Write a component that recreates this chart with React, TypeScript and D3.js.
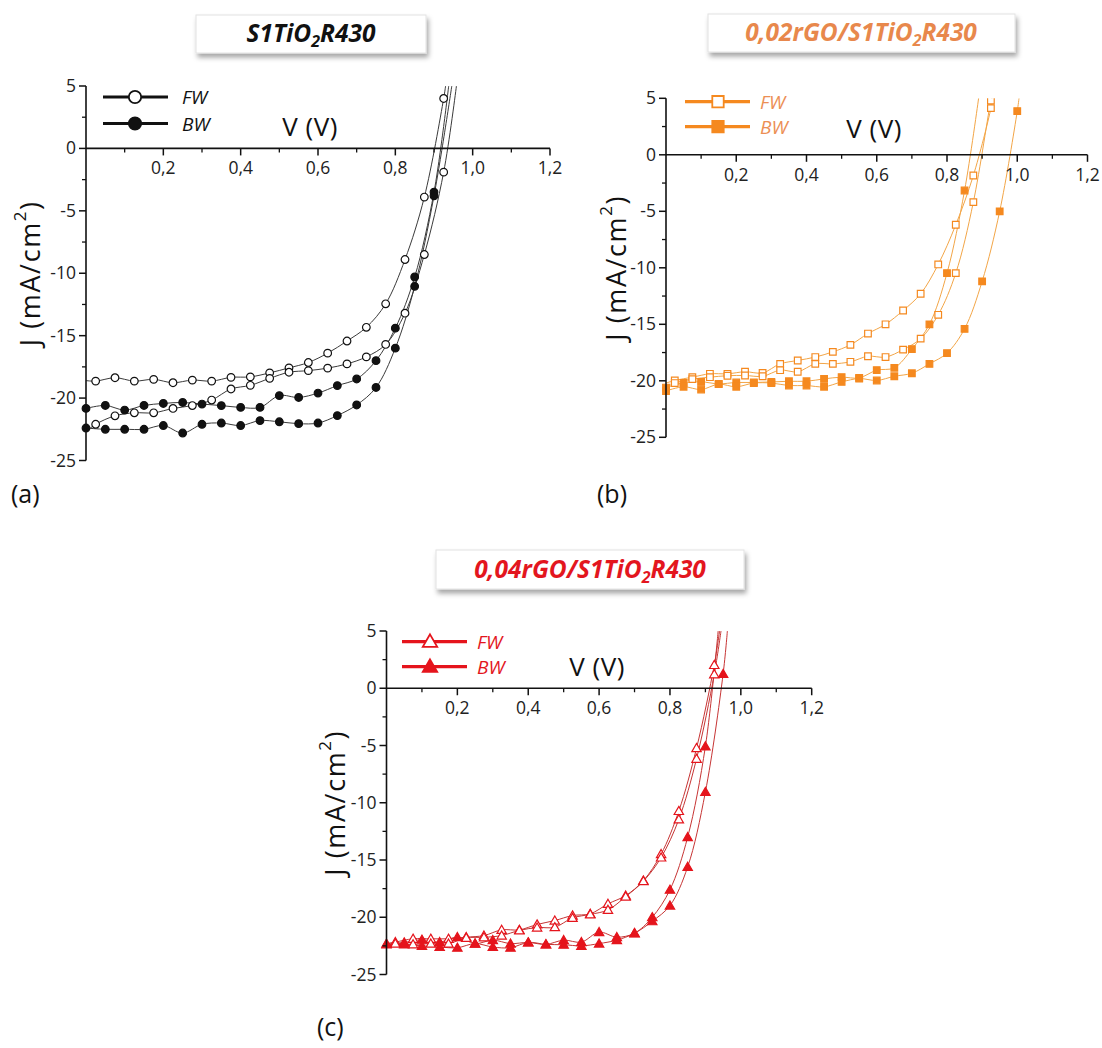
import React from 'react';
import * as d3 from 'd3';

// ---------- shared tick values ----------
const X_MAJOR = [0.2, 0.4, 0.6, 0.8, 1.0, 1.2];
const X_MINOR = [0.1, 0.3, 0.5, 0.7, 0.9, 1.1];
const Y_MAJOR = [5, 0, -5, -10, -15, -20, -25];
const Y_MINOR = [2.5, -2.5, -7.5, -12.5, -17.5, -22.5];

// voltages of the markers
const V_FW = [0.025, 0.075, 0.125, 0.175, 0.225, 0.275, 0.325, 0.375, 0.425, 0.475, 0.525, 0.575, 0.625, 0.675, 0.725, 0.775, 0.825, 0.875, 0.925];
const V_BW_090 = [0, 0.05, 0.1, 0.15, 0.2, 0.25, 0.3, 0.35, 0.4, 0.45, 0.5, 0.55, 0.6, 0.65, 0.7, 0.75, 0.8, 0.85, 0.9];
const V_BW_085 = [0, 0.05, 0.1, 0.15, 0.2, 0.25, 0.3, 0.35, 0.4, 0.45, 0.5, 0.55, 0.6, 0.65, 0.7, 0.75, 0.8, 0.85];
const V_BW_095 = [0, 0.05, 0.1, 0.15, 0.2, 0.25, 0.3, 0.35, 0.4, 0.45, 0.5, 0.55, 0.6, 0.65, 0.7, 0.75, 0.8, 0.85, 0.9, 0.95];
const V_BW_100 = [0, 0.05, 0.1, 0.15, 0.2, 0.25, 0.3, 0.35, 0.4, 0.45, 0.5, 0.55, 0.6, 0.65, 0.7, 0.75, 0.8, 0.85, 0.9, 0.95, 1.0];

// ---------- panel (a): S1TiO2R430 ----------
const A_FW1 = [-18.64, -18.37, -18.64, -18.5, -18.77, -18.56, -18.64, -18.34, -18.3, -17.98, -17.58, -17.15, -16.4, -15.43, -14.33, -12.45, -8.9, -3.9, 4.0];
const A_FW2 = [-22.1, -21.42, -21.18, -21.18, -20.83, -20.6, -20.16, -19.27, -18.98, -18.42, -17.93, -17.8, -17.6, -17.26, -16.7, -15.7, -13.2, -8.5, -1.9];
const A_BW1 = [-20.83, -20.59, -20.96, -20.59, -20.43, -20.35, -20.48, -20.6, -20.75, -20.75, -19.8, -19.95, -19.6, -19.0, -18.47, -17.0, -14.4, -10.3, -3.5];
const A_BW2 = [-22.4, -22.5, -22.5, -22.5, -22.2, -22.8, -22.1, -22.0, -22.2, -21.8, -21.9, -22.05, -22.0, -21.4, -20.55, -19.15, -16.0, -11.05, -3.8];
const A_FW1_HEAD: [number, number] = [0, -18.6];
const A_FW2_HEAD: [number, number] = [0, -22.7];
const A_FW1_TAIL: [number, number] = [0.93, 5];
const A_FW2_TAIL: [number, number] = [0.958, 5];
const A_BW1_TAIL: [number, number] = [0.938, 5];
const A_BW2_TAIL: [number, number] = [0.946, 5];

// ---------- panel (b): 0,02rGO/S1TiO2R430 ----------
const B_FW1 = [-19.97, -19.68, -19.38, -19.38, -19.2, -19.3, -18.5, -18.2, -17.9, -17.44, -16.82, -15.82, -15.0, -13.78, -12.3, -9.7, -6.19, -1.83, 4.13];
const B_FW2 = [-20.2, -19.85, -19.68, -19.55, -19.53, -19.6, -19.06, -19.2, -18.5, -18.5, -18.32, -17.83, -17.9, -17.24, -16.27, -14.16, -10.47, -4.19, 4.8];
const B_BW1 = [-20.6, -20.18, -20.09, -20.27, -20.15, -20.15, -20.1, -20.04, -20.04, -19.83, -19.68, -19.74, -19.06, -18.85, -17.2, -15.0, -10.47, -3.16];
const B_BW2 = [-20.9, -20.53, -20.77, -20.3, -20.53, -20.2, -20.2, -20.42, -20.42, -20.53, -20.1, -19.8, -19.97, -19.6, -19.33, -18.5, -17.55, -15.4, -11.2, -5.0, 3.86];
const B_FW1_HEAD: [number, number] = [0, -20.2];
const B_FW2_HEAD: [number, number] = [0, -20.6];
const B_FW1_TAIL: [number, number] = [0.929, 5];
const B_FW2_TAIL: [number, number] = [0.927, 5];
const B_BW1_TAIL: [number, number] = [0.89, 5];
const B_BW2_TAIL: [number, number] = [1.005, 5];

// ---------- panel (c): 0,04rGO/S1TiO2R430 ----------
const C_FW1 = [-22.17, -21.88, -21.88, -21.88, -21.74, -21.6, -21.1, -21.1, -20.63, -20.29, -19.85, -19.7, -18.83, -18.11, -16.8, -14.49, -10.72, -5.23, 2.03];
const C_FW2 = [-22.3, -22.37, -22.3, -22.3, -21.8, -21.75, -21.6, -21.15, -20.9, -20.87, -20.06, -19.75, -19.36, -18.2, -16.85, -14.78, -11.45, -6.16, 1.22];
const C_BW1 = [-22.3, -22.2, -21.96, -22.17, -21.74, -22.3, -22.0, -22.3, -22.2, -22.37, -22.0, -22.17, -21.3, -21.74, -21.39, -20.0, -17.6, -13.0, -5.08];
const C_BW2 = [-22.37, -22.37, -22.5, -22.6, -22.66, -22.3, -22.6, -22.66, -22.2, -22.37, -22.4, -22.5, -22.3, -22.0, -21.4, -20.35, -18.98, -15.6, -9.06, 1.25];
const C_FW1_HEAD: [number, number] = [0, -22.3];
const C_FW2_HEAD: [number, number] = [0, -22.5];
const C_FW1_TAIL: [number, number] = [0.94, 5];
const C_FW2_TAIL: [number, number] = [0.944, 5];
const C_BW1_TAIL: [number, number] = [0.936, 5];
const C_BW2_TAIL: [number, number] = [0.962, 5];

type Pt = [number, number];
type Series = { v: number[]; j: number[]; head?: Pt; tail: Pt; filled: boolean };

const zip = (v: number[], j: number[]): Pt[] => j.map((y, i) => [v[i], y]);

const PANELS = [
  {
    id: 'a',
    x0: 86, x1: 550, yTop: 86, yBot: 460.5,
    box: [196, 15, 230, 38], titleCx: 311, titleY: 42, titleColor: '#111111',
    titlePre: 'S1TiO', titlePost: 'R430',
    letter: '(a)', letterX: 11, letterY: 503,
    vLabelX: 310, vLabelY: 136, yTitleX: 29,
    legend: { lx1: 103, lx2: 168, mx: 135, tx: 182, yFW: 97, yBW: 123.5 },
    lineColor: '#3a3a3a', markColor: '#111111', legendText: '#111111', shape: 'circle',
    series: [
      { v: V_FW, j: A_FW1, head: A_FW1_HEAD, tail: A_FW1_TAIL, filled: false },
      { v: V_FW, j: A_FW2, head: A_FW2_HEAD, tail: A_FW2_TAIL, filled: false },
      { v: V_BW_090, j: A_BW1, tail: A_BW1_TAIL, filled: true },
      { v: V_BW_090, j: A_BW2, tail: A_BW2_TAIL, filled: true },
    ] as Series[],
  },
  {
    id: 'b',
    x0: 666, x1: 1087.5, yTop: 98.3, yBot: 437.3,
    box: [708, 14, 307, 38], titleCx: 861, titleY: 41, titleColor: '#E8884C',
    titlePre: '0,02rGO/S1TiO', titlePost: 'R430',
    letter: '(b)', letterX: 597, letterY: 503,
    vLabelX: 874, vLabelY: 138, yTitleX: 615,
    legend: { lx1: 685, lx2: 750, mx: 718, tx: 760, yFW: 101.7, yBW: 126.7 },
    lineColor: '#F2A547', markColor: '#F5891F', legendText: '#EC8F55', shape: 'square',
    series: [
      { v: V_FW, j: B_FW1, head: B_FW1_HEAD, tail: B_FW1_TAIL, filled: false },
      { v: V_FW, j: B_FW2, head: B_FW2_HEAD, tail: B_FW2_TAIL, filled: false },
      { v: V_BW_085, j: B_BW1, tail: B_BW1_TAIL, filled: true },
      { v: V_BW_100, j: B_BW2, tail: B_BW2_TAIL, filled: true },
    ] as Series[],
  },
  {
    id: 'c',
    x0: 386.5, x1: 811.7, yTop: 631, yBot: 974.5,
    box: [436, 550, 308, 39], titleCx: 590, titleY: 578, titleColor: '#E3161E',
    titlePre: '0,04rGO/S1TiO', titlePost: 'R430',
    letter: '(c)', letterX: 317, letterY: 1036,
    vLabelX: 597, vLabelY: 676, yTitleX: 334,
    legend: { lx1: 402, lx2: 467, mx: 430, tx: 477, yFW: 641.7, yBW: 666.7 },
    lineColor: '#C63434', markColor: '#E5141C', legendText: '#E3161E', shape: 'triangle',
    series: [
      { v: V_FW, j: C_FW1, head: C_FW1_HEAD, tail: C_FW1_TAIL, filled: false },
      { v: V_FW, j: C_FW2, head: C_FW2_HEAD, tail: C_FW2_TAIL, filled: false },
      { v: V_BW_090, j: C_BW1, tail: C_BW1_TAIL, filled: true },
      { v: V_BW_095, j: C_BW2, tail: C_BW2_TAIL, filled: true },
    ] as Series[],
  },
];

const FONT = '"Open Sans", "DejaVu Sans", sans-serif';
const fmt = (v: number) => d3.format('.1f')(v).replace('.', ',');

function symbolPath(shape: string, size: number) {
  const t = shape === 'circle' ? d3.symbolCircle : shape === 'square' ? d3.symbolSquare : d3.symbolTriangle;
  return d3.symbol().type(t).size(size)() as string;
}

function Panel({ p }: { p: (typeof PANELS)[number] }) {
  const x = d3.scaleLinear().domain([0, 1.2]).range([p.x0, p.x1]);
  const y = d3.scaleLinear().domain([5, -25]).range([p.yTop, p.yBot]);
  const line = d3.line<Pt>().x((d) => x(d[0])).y((d) => y(d[1])).curve(d3.curveCatmullRom.alpha(0.5));
  const markSize = p.shape === 'circle' ? 46 : p.shape === 'square' ? 44 : 38;
  const legSize = p.shape === 'circle' ? 120 : p.shape === 'square' ? 130 : 90;
  const y0 = y(0);
  const clipId = 'clip-' + p.id;
  const [bx, by, bw, bh] = p.box;
  return (
    <g>
      <defs>
        <clipPath id={clipId}>
          <rect x={p.x0 - 8} y={p.yTop} width={p.x1 - p.x0 + 16} height={p.yBot - p.yTop + 8} />
        </clipPath>
      </defs>
      {/* title box */}
      <rect x={bx} y={by} width={bw} height={bh} fill="#ffffff" stroke="#e2e2e2" strokeWidth={1} filter="url(#shadow)" />
      <text x={p.titleCx} y={p.titleY} textAnchor="middle" fontFamily={FONT} fontWeight={700} fontStyle="italic" fontSize={24.5} fill={p.titleColor}>
        <tspan>{p.titlePre}</tspan>
        <tspan fontSize={16} dy={5}>2</tspan>
        <tspan dy={-5}>{p.titlePost}</tspan>
      </text>
      {/* panel letter */}
      <text x={p.letterX} y={p.letterY} fontFamily={FONT} fontSize={25} fill="#111">{p.letter}</text>

      {/* data lines */}
      <g clipPath={`url(#${clipId})`}>
        {p.series.map((s, i) => {
          const pts: Pt[] = [...(s.head ? [s.head] : []), ...zip(s.v, s.j), s.tail];
          return <path key={i} d={line(pts) as string} fill="none" stroke={p.lineColor} strokeWidth={1} />;
        })}
        {p.series.map((s, i) =>
          zip(s.v, s.j).map((d, k) => (
            <path
              key={i + '-' + k}
              d={symbolPath(p.shape, markSize)}
              transform={`translate(${x(d[0])},${y(d[1]) + (p.shape === 'triangle' ? 0.8 : 0)})`}
              fill={s.filled ? p.markColor : '#ffffff'}
              stroke={p.markColor}
              strokeWidth={1.2}
            />
          ))
        )}
      </g>

      {/* axes */}
      <line x1={p.x0} x2={p.x0} y1={p.yTop} y2={p.yBot} stroke="#111" strokeWidth={1.6} />
      <line x1={p.x0} x2={p.x1} y1={y0} y2={y0} stroke="#111" strokeWidth={1.6} />
      {Y_MAJOR.map((t) => (
        <g key={'ym' + t}>
          <line x1={p.x0 - 7} x2={p.x0} y1={y(t)} y2={y(t)} stroke="#111" strokeWidth={1.5} />
          <text x={p.x0 - 10} y={y(t) + 6} textAnchor="end" fontFamily={FONT} fontSize={17.5} fill="#222">{String(t)}</text>
        </g>
      ))}
      {Y_MINOR.map((t) => (
        <line key={'yn' + t} x1={p.x0 - 4} x2={p.x0} y1={y(t)} y2={y(t)} stroke="#111" strokeWidth={1.3} />
      ))}
      {X_MAJOR.map((t) => (
        <g key={'xm' + t}>
          <line x1={x(t)} x2={x(t)} y1={y0} y2={y0 + 7} stroke="#111" strokeWidth={1.5} />
          <text x={x(t)} y={y0 + 26} textAnchor="middle" fontFamily={FONT} fontSize={17.5} fill="#222">{fmt(t)}</text>
        </g>
      ))}
      {X_MINOR.map((t) => (
        <line key={'xn' + t} x1={x(t)} x2={x(t)} y1={y0} y2={y0 + 4} stroke="#111" strokeWidth={1.3} />
      ))}

      {/* axis titles */}
      <text x={p.vLabelX} y={p.vLabelY} textAnchor="middle" fontFamily={FONT} fontSize={26} letterSpacing={0.5} fill="#111">V (V)</text>
      <text
        transform={`translate(${p.yTitleX},${y(-10)}) rotate(-90)`}
        textAnchor="middle"
        dominantBaseline="central"
        fontFamily={FONT}
        fontSize={27}
        letterSpacing={1.6}
        fill="#111"
      >
        <tspan>J (mA/cm</tspan>
        <tspan fontSize={17} dy={-10}>2</tspan>
        <tspan dy={10}>)</tspan>
      </text>

      {/* legend */}
      {[
        { yy: p.legend.yFW, filled: false, label: 'FW' },
        { yy: p.legend.yBW, filled: true, label: 'BW' },
      ].map((l) => (
        <g key={l.label}>
          <line x1={p.legend.lx1} x2={p.legend.lx2} y1={l.yy} y2={l.yy} stroke={p.markColor} strokeWidth={3.2} />
          <path
            d={symbolPath(p.shape, legSize)}
            transform={`translate(${p.legend.mx},${l.yy + (p.shape === 'triangle' ? 1 : 0)})`}
            fill={l.filled ? p.markColor : '#ffffff'}
            stroke={p.markColor}
            strokeWidth={1.8}
          />
          <text x={p.legend.tx} y={l.yy + 7} fontFamily={FONT} fontStyle="italic" fontSize={19} fill={p.legendText}>{l.label}</text>
        </g>
      ))}
    </g>
  );
}

export default function App() {
  return (
    <div style={{ position: 'absolute', left: 0, top: 0, width: 1102, height: 1048, background: '#fff' }}>
      <svg width={1102} height={1048} viewBox="0 0 1102 1048" style={{ display: 'block' }}>
        <defs>
          <filter id="shadow" x="-10%" y="-30%" width="125%" height="190%">
            <feDropShadow dx={2} dy={4} stdDeviation={2.5} floodColor="#000" floodOpacity={0.35} />
          </filter>
        </defs>
        <rect width={1102} height={1048} fill="#ffffff" />
        {PANELS.map((p) => (
          <Panel key={p.id} p={p} />
        ))}
      </svg>
    </div>
  );
}
